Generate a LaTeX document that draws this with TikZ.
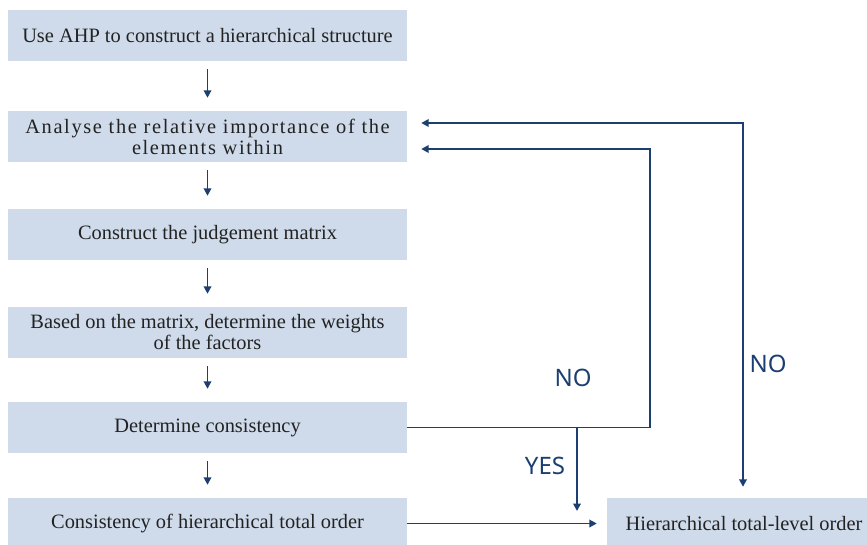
\documentclass[tikz,border=0pt]{standalone}
\usepackage{fontspec}
\setmainfont{Liberation Serif}
\newfontfamily\labelfont{Noto Sans}
\usetikzlibrary{arrows.meta}
\definecolor{boxfill}{HTML}{CFDBEA}
\definecolor{linecol}{HTML}{1C3F72}
\definecolor{txtcol}{HTML}{222222}
\begin{document}
\begin{tikzpicture}[x=1pt, y=-1pt,
  stepbox/.style={fill=boxfill, text=txtcol, minimum width=399pt, minimum height=51pt,
    align=center, inner sep=0pt, font=\fontsize{20.4}{21}\selectfont},
  arr/.style={draw=linecol, line width=1.9pt, -{Triangle[width=7.5pt,length=7.5pt]}},
  lbl/.style={text=linecol, font=\labelfont\fontsize{24}{26}\selectfont}]
  \useasboundingbox (0,0) rectangle (867,544);
  \node[stepbox] (b1) at (207.5,35.5) {Use AHP to construct a hierarchical structure};
  \node[stepbox, font=\fontsize{20.4}{21}\selectfont\addfontfeature{LetterSpace=8}] (b2) at (207.5,136.5)
    {Analyse the relative importance of the\\elements within};
  \node[stepbox] (b3) at (207.5,234.5) {Construct the judgement matrix};
  \node[stepbox] (b4) at (207.5,332.5) {Based on the matrix, determine the weights\\of the factors};
  \node[stepbox] (b5) at (207.5,427.5) {Determine consistency};
  \node[stepbox] (b6) at (207.5,523.5) {Consistency of hierarchical total order};
  \node[stepbox, minimum width=274pt] (r) at (744,523.5) {Hierarchical total-level order};
  % straight steps
  \foreach \a/\b in {b1/b2, b2/b3, b3/b4, b4/b5, b5/b6}
    \draw[arr, shorten <=8pt, shorten >=13pt] (\a.south) -- (\b.north);
  % feedback loops
  \draw[arr, shorten >=14pt] (b5.east) -| (650,149) -- ([yshift=-12.5pt]b2.east);
  \draw[arr, {Triangle[width=7.5pt,length=7.5pt]}-{Triangle[width=7.5pt,length=7.5pt]},
    shorten <=14pt, shorten >=11pt] ([yshift=13.5pt]b2.east) -| ([xshift=-1pt]r.north);
  \coordinate (yes) at (577,427.5);
  \draw[arr] (yes) -- (577,511);
  \draw[arr, shorten >=10pt] (b6.east) -- (r.west);
  \node[lbl] (no1) at (573,378) {NO};
  \node[lbl] (no2) at (768,364) {NO};
  \node[lbl] (ok) at (545,466) {YES};
\end{tikzpicture}
\end{document}
